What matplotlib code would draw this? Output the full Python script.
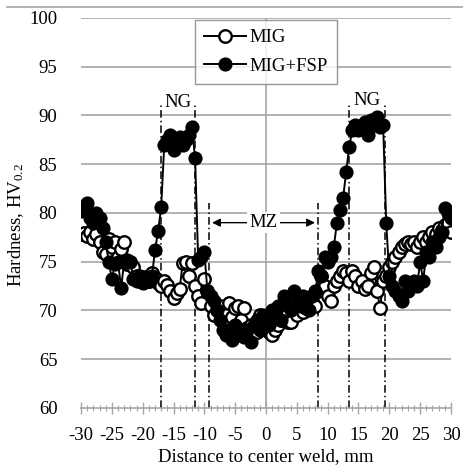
import matplotlib
matplotlib.use("Agg")
import matplotlib.pyplot as plt
import numpy as np
from matplotlib.lines import Line2D

plt.rcParams['font.family'] = ['Liberation Serif', 'DejaVu Serif']
plt.rcParams['mathtext.fontset'] = 'custom'
plt.rcParams['mathtext.rm'] = 'Liberation Serif'
plt.rcParams['mathtext.it'] = 'Liberation Serif'
plt.rcParams['axes.unicode_minus'] = False

# distance to weld centre, mm (0.5 mm step)
dist = np.arange(-30, 30.01, 0.5)

mig = [77.8, 77.9, 77.6, 78.0, 77.3, 77.8, 77.0, 76.0, 75.8, 77.3,
       76.5, 77.0, 75.5, 76.3, 77.0, 74.8, 75.0, 74.5, 73.5, 73.0,
       73.2, 73.4, 73.0, 73.8, 73.3, 72.8, 72.5, 73.0, 72.6, 72.0,
       71.3, 71.8, 72.2, 74.9, 75.0, 73.5, 74.9, 72.5, 71.5, 70.8,
       73.2, 72.0, 70.5, 69.5, 70.0, 70.5, 69.0, 69.5, 70.8, 69.3,
       70.2, 70.5, 69.0, 70.2, 68.2, 68.5, 68.0, 67.8, 69.5, 69.0,
       68.5, 67.8, 67.5, 68.0, 68.5, 69.0, 69.5, 68.8, 68.8, 70.0,
       69.5, 70.5, 69.8, 70.2, 71.0, 71.0, 70.5, 72.0, 73.5, 72.5,
       71.5, 71.0, 72.5, 73.0, 73.5, 74.0, 73.8, 73.0, 74.0, 73.5,
       72.5, 73.0, 72.2, 72.5, 73.8, 74.5, 72.0, 70.2, 73.0, 73.5,
       74.5, 75.0, 75.5, 76.0, 76.5, 76.8, 77.0, 76.8, 77.0, 76.5,
       77.0, 77.5, 77.0, 77.5, 78.0, 77.8, 78.5, 78.2, 78.8, 79.0,
       78.0]

mig_fsp = [80.2, 80.5, 81.0, 79.5, 79.0, 80.0, 79.5, 78.5, 77.0, 75.0,
           73.2, 74.8, 75.0, 72.3, 75.0, 75.2, 75.0, 73.2, 73.0, 73.5,
           72.8, 73.3, 73.0, 73.5, 76.2, 78.1, 80.6, 87.0, 87.5, 88.0,
           86.5, 87.5, 87.8, 87.0, 87.5, 88.0, 88.8, 85.6, 75.2, 75.5,
           76.0, 72.0, 71.5, 71.0, 70.0, 69.0, 68.0, 67.5, 68.0, 67.0,
           68.5, 67.5, 68.0, 67.3, 68.0, 66.8, 68.5, 69.0, 68.0, 69.5,
           69.0, 68.5, 70.0, 69.5, 70.5, 69.0, 71.5, 70.5, 70.0, 72.0,
           71.0, 70.5, 71.5, 71.0, 70.0, 71.5, 72.0, 74.0, 73.5, 75.5,
           75.0, 75.5, 76.5, 79.0, 80.3, 81.5, 84.2, 86.8, 88.5, 89.0,
           88.5, 88.8, 89.3, 88.0, 89.5, 89.0, 89.8, 88.8, 89.0, 79.0,
           73.5, 72.5, 72.0, 71.5, 71.0, 73.0, 72.0, 72.5, 73.0, 72.5,
           75.0, 73.0, 76.0, 75.5, 77.0, 76.5, 77.5, 78.0, 80.5, 80.0,
           79.5]

ng_left = [-17.0, -11.5]
ng_right = [13.45, 19.3]
mz_bounds = [-9.2, 8.4]

fig = plt.figure(figsize=(4.63, 4.70), dpi=100)
ax = fig.add_axes([0.175, 0.132, 0.799, 0.830])

grid_c = "#a6a6a6"
for yv in range(65, 101, 5):
    ax.axhline(yv, color=grid_c, lw=1.2, zorder=1)
ax.axvline(0, color=grid_c, lw=1.2, zorder=1)

# dash-dot zone boundaries
for xv in ng_left + ng_right:
    ax.plot([xv, xv], [60, 91.3], color="black", lw=1.1, ls=(0, (5, 2, 1, 2)), zorder=2)
for xv in mz_bounds:
    ax.plot([xv, xv], [60, 81], color="black", lw=1.1, ls=(0, (5, 2, 1, 2)), zorder=2)

ax.plot(dist, mig, color="black", lw=1.4, marker="o", ms=9, mfc="white",
        mec="black", mew=1.7, label="MIG", zorder=3)
ax.plot(dist, mig_fsp, color="black", lw=1.4, marker="o", ms=9, mfc="black",
        mec="black", mew=1.2, label="MIG+FSP", zorder=4)

# MZ arrow
mz_mid = (mz_bounds[0] + mz_bounds[1]) / 2
ax.annotate("", xy=(mz_bounds[0], 79), xytext=(mz_mid, 79),
            arrowprops=dict(arrowstyle="-|>", color="black", lw=1.0, mutation_scale=12), zorder=5)
ax.annotate("", xy=(mz_bounds[1], 79), xytext=(mz_mid, 79),
            arrowprops=dict(arrowstyle="-|>", color="black", lw=1.0, mutation_scale=12), zorder=5)
ax.text(mz_mid, 79, "MZ", ha="center", va="center", fontsize=13.5,
        bbox=dict(facecolor="white", edgecolor="none", pad=1.5), zorder=6)

ax.text(sum(ng_left) / 2, 91.3, "NG", ha="center", va="center", fontsize=13.5,
        bbox=dict(facecolor="white", edgecolor="none", pad=0.5), zorder=6)
ax.text(sum(ng_right) / 2, 91.5, "NG", ha="center", va="center", fontsize=13.5,
        bbox=dict(facecolor="white", edgecolor="none", pad=0.5), zorder=6)

ax.set_xlim(-30, 30)
ax.set_ylim(60, 100)
ax.set_xticks(range(-30, 31, 5))
ax.set_xticks(range(-30, 31, 1), minor=True)
ax.set_yticks(range(60, 101, 5))
for s in ["left", "right", "top"]:
    ax.spines[s].set_visible(False)
ax.spines["bottom"].set_color(grid_c)
ax.spines["bottom"].set_linewidth(1.2)
ax.tick_params(axis="x", which="major", direction="inout", length=9, color=grid_c,
               width=1.0, labelsize=13.5, pad=9)
ax.tick_params(axis="x", which="minor", direction="inout", length=5, color=grid_c, width=0.8)
ax.tick_params(axis="y", length=0, labelsize=13.5, pad=17)

ax.set_xlabel("Distance to center weld, mm", fontsize=13.5, labelpad=3)
ax.set_ylabel("Hardness, HV$_{0.2}$", fontsize=13.5)
ax.yaxis.set_label_coords(-0.148, 0.47)

leg = ax.legend(loc="upper left", bbox_to_anchor=(195 / 463, 1 - 20 / 470),
                bbox_transform=fig.transFigure, fontsize=13.5, frameon=True,
                fancybox=False, edgecolor="#7f7f7f", handlelength=2.2,
                handletextpad=0.2, borderpad=0.5, labelspacing=0.6, borderaxespad=0)
leg.get_frame().set_linewidth(1.0)
leg.set_zorder(10)

fig.add_artist(Line2D([7 / 463, 1], [1 - 7 / 470, 1 - 7 / 470],
                      color="#a6a6a6", lw=1.2, transform=fig.transFigure))

fig.savefig("out.png", dpi=100)
